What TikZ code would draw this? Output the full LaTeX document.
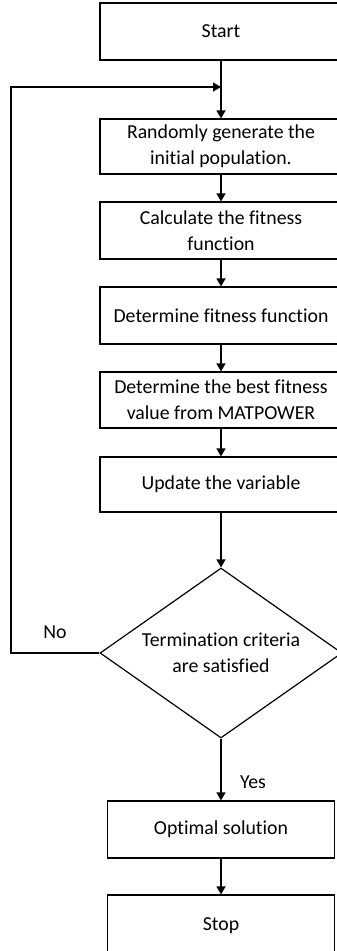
\documentclass[tikz,border=0pt]{standalone}
\usepackage{fontspec}
\setmainfont[Ligatures=CommonOff]{Carlito}
\usetikzlibrary{shapes.geometric,arrows.meta}
\tikzset{
  box/.style={draw, line width=1.2pt, rectangle, minimum width=242pt, inner sep=0pt, align=center, font=\fontsize{19.8}{26}\selectfont},
  smallbox/.style={box, minimum width=226.6pt},
  decision/.style={draw, line width=1.2pt, diamond, aspect=1.42, minimum width=242pt, minimum height=170pt, inner sep=0pt, align=center, font=\fontsize{19.8}{26}\selectfont},
  conn/.style={line width=1.2pt, -{Triangle[length=8pt,width=9pt]}},
  lbl/.style={font=\fontsize{19.8}{26}\selectfont, inner sep=0pt}
}
\begin{document}
\begin{tikzpicture}[x=1pt,y=1pt]
\useasboundingbox (0,0) rectangle (337,-951);
\clip (0,0) rectangle (337,-951);
\node[box, minimum height=57pt] (start) at (221,-31.5) {Start};
\node[box, minimum height=55pt] (rand) at (221,-146.5) {Randomly generate the\\initial population.};
\node[box, minimum height=57pt] (calc) at (221,-230.5) {Calculate the fitness\\function};
\node[box, minimum height=57pt] (detf) at (221,-315.5) {Determine fitness function};
\node[box, minimum height=56pt] (best) at (221,-400) {Determine the best fitness\\value from MATPOWER};
\node[box, minimum height=55pt] (upd) at (221,-484.5) {Update the variable};
\node[decision] (dec) at (221,-653) {Termination criteria\\are satisfied};
\node[smallbox, minimum height=57pt] (opt) at (221,-829.5) {Optimal solution};
\node[smallbox, minimum height=62pt] (stop) at (221,-926) {Stop};
\coordinate (join) at (221,-87);
\coordinate (loopx) at (11,-87);
\node[lbl] (no) at (55,-632) {No};
\node[lbl] (yes) at (253,-782) {Yes};
\draw[conn] (start) -- (rand);
\draw[conn] (rand) -- (calc);
\draw[conn] (calc) -- (detf);
\draw[conn] (detf) -- (best);
\draw[conn] (best) -- (upd);
\draw[conn] (upd) -- (dec);
\draw[conn] (dec) -- (opt);
\draw[conn] (opt) -- (stop);
\draw[conn] (dec.west) -- (dec.west -| loopx) -- (loopx) -- (join);
\end{tikzpicture}
\end{document}
